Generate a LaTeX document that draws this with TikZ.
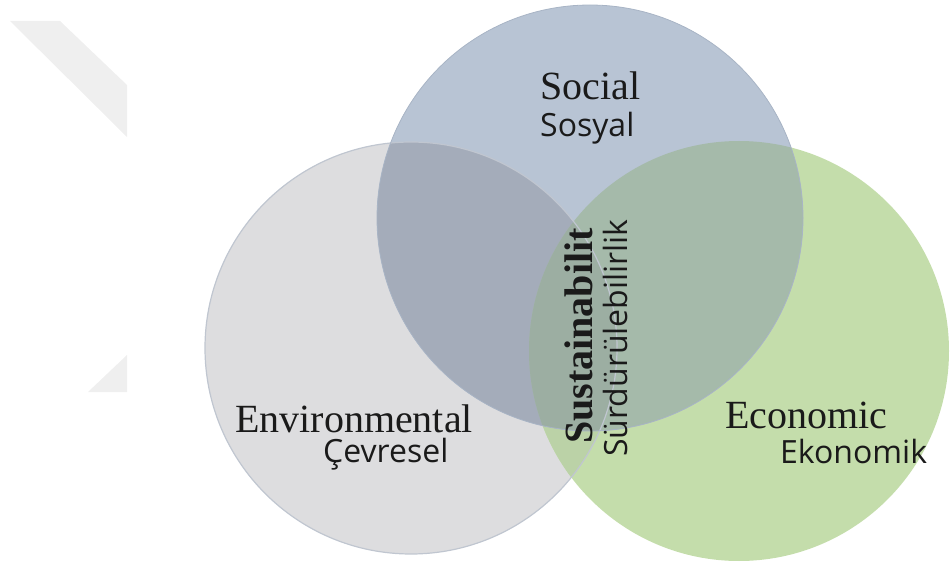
\documentclass[tikz,border=0pt]{standalone}
\usepackage{fontspec}
\setmainfont{Liberation Serif}
\newfontfamily\trfont{Open Sans}
\usetikzlibrary{positioning}
\definecolor{markgray}{HTML}{EFEFEF}
\definecolor{envfill}{HTML}{DDDDDF}
\definecolor{socfill}{HTML}{B8C4D4}
\definecolor{ecofill}{HTML}{C4DDAB}
\definecolor{socenv}{HTML}{A4ACBA}
\definecolor{soceco}{HTML}{A5BAAA}
\definecolor{enveco}{HTML}{BBD2A7}
\definecolor{allthree}{HTML}{9CAEA2}
\definecolor{envline}{HTML}{C0C6D0}
\definecolor{socline}{HTML}{A8B4C5}
\definecolor{txt}{HTML}{1A1A1A}

\begin{document}
\begin{tikzpicture}[x=1pt, y=-1pt,
    en/.style={font=\fontsize{40}{44}\selectfont, text=txt, inner sep=0pt, anchor=base west},
    tr/.style={font=\trfont\fontsize{32}{36}\selectfont, text=txt, inner sep=0pt, anchor=base west}]
    \useasboundingbox (0,0) rectangle (951,564);

    % faint mark on the left
    \fill[markgray] (10,21) -- (60,21) -- (127,85) -- (127,137) -- cycle;
    \fill[markgray] (127,355) -- (127,392) -- (88,392) -- cycle;

    % circle centres
    \coordinate (env) at (411,348);
    \coordinate (soc) at (590,218);
    \coordinate (eco) at (739,351);

    \fill[envfill] (env) circle (206pt);
    \fill[ecofill] (eco) circle (210pt);
    \fill[socfill] (soc) circle (213pt);

    % overlaps
    \begin{scope}
        \clip (env) circle (206pt);
        \fill[enveco] (eco) circle (210pt);
        \fill[socenv] (soc) circle (213pt);
    \end{scope}
    \begin{scope}
        \clip (soc) circle (213pt);
        \fill[soceco] (eco) circle (210pt);
        \clip (eco) circle (210pt);
        \fill[allthree] (env) circle (206pt);
    \end{scope}

    \draw[envline, line width=1.2pt] (env) circle (206pt);
    \draw[socline, line width=0.8pt] (soc) circle (213pt);

    % labels
    \node[en] (social) at (540,100) {Social};
    \node[tr] (sosyal) at (540,137) {Sosyal};
    \node[en] (envlab) at (235,432) {Environmental};
    \node[tr] (cevre) at (323,462) {Çevresel};
    \node[en] (ecolab) at (725,428) {Economic};
    \node[tr] (ekon) at (780,463) {Ekonomik};
    \node[en, font=\bfseries\fontsize{40}{44}\selectfont, rotate=90] (sust) at (592,444) {Sustainabilit};
    \node[tr, rotate=90] (surd) at (627,457) {Sürdürülebilirlik};
\end{tikzpicture}
\end{document}
